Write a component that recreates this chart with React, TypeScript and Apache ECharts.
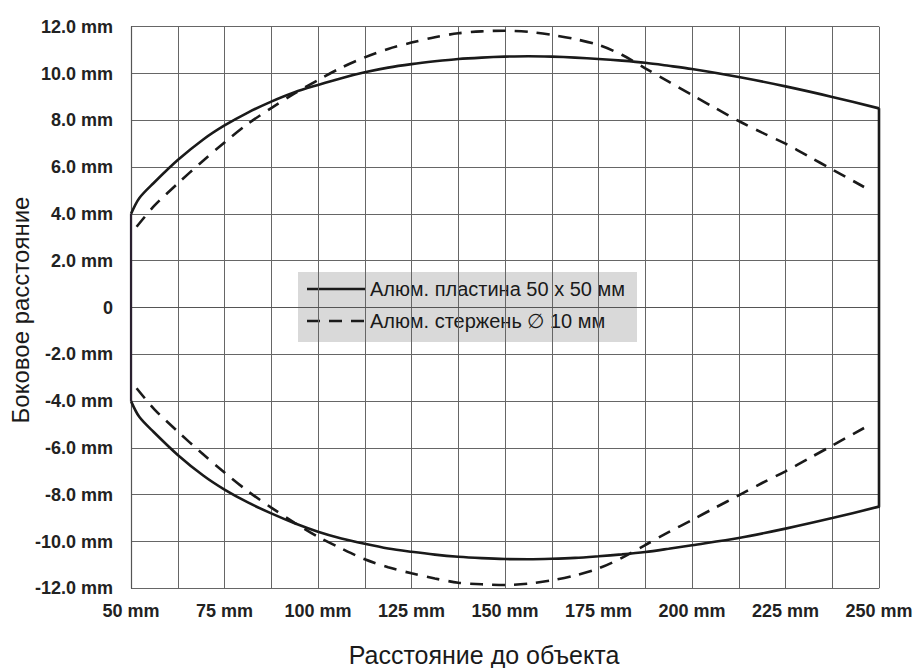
import React, { useEffect, useRef } from "react";
import * as echarts from "echarts";

const PLATE = "Алюм. пластина 50 x 50 мм";
const ROD = "Алюм. стержень ∅ 10 мм";
const xAxisTitle = "Расстояние до объекта";
const yAxisTitle = "Боковое расстояние";

const solidX = [50, 52.2, 56, 62.5, 69.4, 75, 81.25, 87.5, 93.75, 100, 106.25, 112.5, 118.75, 125, 131.25, 137.5, 143.75, 150, 156.25, 162.5, 168.75, 175, 181.25, 187.5, 193.75, 200, 212.5, 225, 237.5, 250];
const solidUpper = [4.0, 4.67, 5.31, 6.3, 7.19, 7.78, 8.33, 8.8, 9.2, 9.51, 9.8, 10.05, 10.25, 10.4, 10.52, 10.62, 10.68, 10.72, 10.74, 10.72, 10.68, 10.62, 10.55, 10.46, 10.33, 10.19, 9.85, 9.45, 9.0, 8.51];
const solidLower = [-4.0, -4.67, -5.31, -6.3, -7.19, -7.78, -8.33, -8.8, -9.22, -9.58, -9.87, -10.1, -10.3, -10.44, -10.56, -10.65, -10.71, -10.75, -10.76, -10.74, -10.7, -10.63, -10.55, -10.45, -10.31, -10.16, -9.85, -9.45, -9.0, -8.51];

const dashX = [51.5, 56.25, 62.5, 68.75, 75, 81.25, 87.5, 93.75, 100, 106.25, 112.5, 118.75, 125, 131.25, 137.5, 143.75, 150, 156.25, 162.5, 168.75, 175, 181.25, 187.5, 193.75, 200, 206.25, 212.5, 218.75, 225, 231.25, 237.5, 246];
const dashUpper = [3.45, 4.35, 5.3, 6.2, 7.05, 7.85, 8.52, 9.15, 9.72, 10.25, 10.69, 11.05, 11.32, 11.55, 11.72, 11.8, 11.83, 11.78, 11.65, 11.47, 11.22, 10.8, 10.22, 9.65, 9.08, 8.52, 7.97, 7.47, 7.0, 6.45, 5.9, 5.15];
const dashLower = [-3.45, -4.35, -5.3, -6.2, -7.05, -7.85, -8.55, -9.2, -9.8, -10.3, -10.76, -11.1, -11.36, -11.58, -11.76, -11.83, -11.86, -11.8, -11.66, -11.45, -11.15, -10.7, -10.15, -9.6, -9.08, -8.55, -8.03, -7.5, -7.0, -6.45, -5.9, -5.15];

const leftEdge = [[50, 4.0], [50, -4.0]];
const rightEdge = [[250, 8.51], [250, -8.51]];

const pairs = (xs: number[], ys: number[]) => xs.map((x, i) => [x, ys[i]]);

const FONT = "Liberation Sans, Arial, sans-serif";
const LABEL_FONT = {
  fontFamily: FONT,
  fontWeight: "bold" as const,
  fontSize: 18,
  color: "#222",
};

export default function App() {
  const ref = useRef<HTMLDivElement>(null);
  useEffect(() => {
    if (!ref.current) return;
    const chart = echarts.init(ref.current, undefined, { renderer: "svg" });
    const solidStyle = { color: "#1a1a1a", width: 2.6, type: "solid" as const };
    const dashStyle = { color: "#1a1a1a", width: 2.6, type: [13, 9] };
    chart.setOption({
      animation: false,
      backgroundColor: "#ffffff",
      grid: { left: 131, right: 38, top: 26.7, bottom: 79.7, containLabel: false },
      xAxis: {
        type: "value",
        min: 50,
        max: 250,
        interval: 12.5,
        axisLine: { show: true, lineStyle: { color: "#555", width: 1.2 } },
        axisTick: { show: false },
        splitLine: { show: true, lineStyle: { color: "#666", width: 1 } },
        axisLabel: {
          ...LABEL_FONT,
          margin: 14,
          showMinLabel: true,
          showMaxLabel: true,
          formatter: (v: number) => ((v - 50) % 25 === 0 ? `${v} mm` : ""),
        },
      },
      yAxis: {
        type: "value",
        min: -12,
        max: 12,
        interval: 2,
        axisLine: { show: true, lineStyle: { color: "#555", width: 1.2 } },
        axisTick: { show: false },
        splitLine: { show: true, lineStyle: { color: "#666", width: 1 } },
        axisLabel: {
          ...LABEL_FONT,
          margin: 18,
          formatter: (v: number) => (v === 0 ? "0" : `${v.toFixed(1)} mm`),
        },
      },
      graphic: [
        {
          type: "text",
          x: 484,
          y: 655,
          style: { text: xAxisTitle, fontFamily: FONT, fontSize: 25, fill: "#1a1a1a", align: "center", verticalAlign: "middle" },
        },
        {
          type: "text",
          x: 20,
          y: 310,
          rotation: Math.PI / 2,
          style: { text: yAxisTitle, fontFamily: FONT, fontSize: 24, fill: "#1a1a1a", align: "center", verticalAlign: "middle" },
        },
        {
          type: "group",
          z: 100,
          children: [
            { type: "rect", shape: { x: 298, y: 272, width: 339, height: 70 }, style: { fill: "#d9d9d9" } },
            { type: "line", shape: { x1: 307, y1: 289, x2: 365, y2: 289 }, style: { stroke: "#1a1a1a", lineWidth: 2.6 } },
            { type: "line", shape: { x1: 307, y1: 321, x2: 365, y2: 321 }, style: { stroke: "#1a1a1a", lineWidth: 2.6, lineDash: [13, 9] } },
            { type: "text", x: 370, y: 289, style: { text: PLATE, fontFamily: FONT, fontSize: 20, fill: "#1a1a1a", verticalAlign: "middle" } },
            { type: "text", x: 370, y: 321, style: { text: ROD, fontFamily: FONT, fontSize: 20, fill: "#1a1a1a", verticalAlign: "middle" } },
          ],
        },
      ],
      series: [
        { name: PLATE, type: "line", data: pairs(solidX, solidUpper), symbol: "none", smooth: 0.3, lineStyle: solidStyle, z: 5 },
        { name: ROD, type: "line", data: pairs(dashX, dashUpper), symbol: "none", smooth: 0.3, lineStyle: dashStyle, z: 4 },
        { name: PLATE, type: "line", data: pairs(solidX, solidLower), symbol: "none", smooth: 0.3, lineStyle: solidStyle, z: 5 },
        { name: ROD, type: "line", data: pairs(dashX, dashLower), symbol: "none", smooth: 0.3, lineStyle: dashStyle, z: 4 },
        { name: PLATE, type: "line", data: leftEdge, symbol: "none", lineStyle: { ...solidStyle, color: "#2a2030", width: 2.2 }, z: 5 },
        { name: PLATE, type: "line", data: rightEdge, symbol: "none", lineStyle: solidStyle, z: 5 },
      ],
    });
    return () => chart.dispose();
  }, []);
  return <div ref={ref} style={{ position: "absolute", left: 0, top: 0, width: 917, height: 668 }} />;
}
